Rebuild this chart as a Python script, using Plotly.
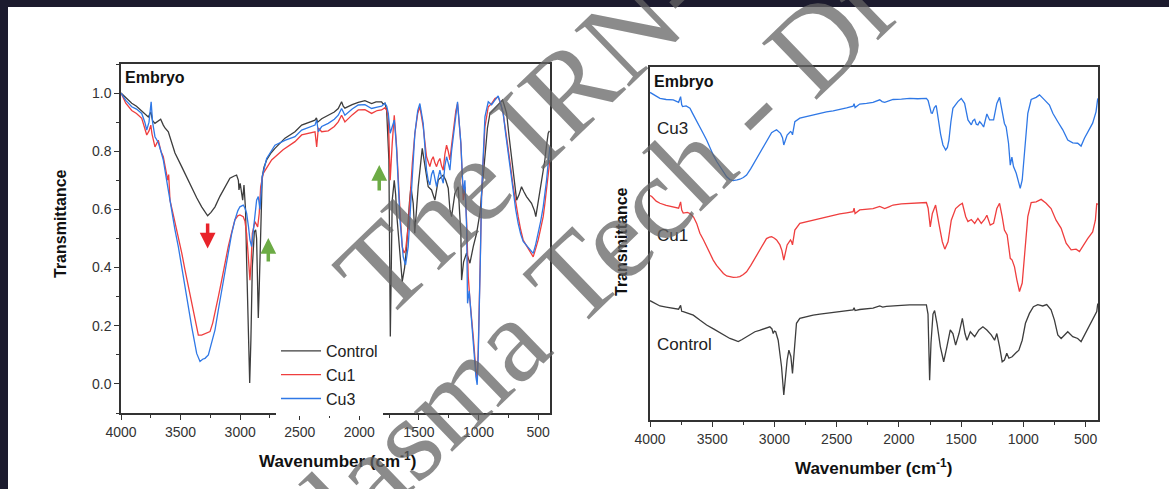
import plotly.graph_objects as go

# ---------------- left panel: overlaid FTIR spectra ----------------
left_ctrl_wn = [4000, 3960, 3910, 3870, 3826, 3790, 3771, 3750, 3735, 3715, 3690, 3667, 3645, 3631, 3603,
                3575, 3547, 3491, 3450, 3407, 3365, 3323, 3290, 3273, 3245, 3211, 3170, 3128, 3086, 3050,
                3030, 3015, 3010, 3000, 2990, 2979, 2968, 2955, 2946, 2930, 2920, 2910, 2898, 2881, 2870,
                2862, 2855, 2848, 2840, 2828, 2815, 2800, 2778, 2740, 2708, 2624, 2540, 2484, 2420, 2372,
                2360, 2350, 2316, 2261, 2210, 2177, 2149, 2135, 2121, 2060, 2009, 1953, 1920, 1897, 1860,
                1813, 1800, 1785, 1771, 1752, 1740, 1730, 1724, 1707, 1695, 1687, 1659, 1640, 1620, 1603,
                1580, 1567, 1548, 1535, 1520, 1506, 1472, 1455, 1450, 1422, 1394, 1366, 1338, 1296, 1275,
                1254, 1240, 1226, 1198, 1170, 1160, 1148, 1142, 1125, 1100, 1072, 1044, 1016, 988, 966,
                946, 925, 904, 848, 820, 798, 785, 764, 743, 722, 700, 680, 660, 639, 618, 597, 555, 530,
                519, 505, 485, 465, 443, 429, 415, 405]
left_ctrl_t = [1.000, 0.985, 0.965, 0.955, 0.940, 0.925, 0.918, 0.935, 0.905, 0.896, 0.905, 0.910, 0.890, 0.880, 0.867,
               0.830, 0.794, 0.747, 0.712, 0.673, 0.640, 0.609, 0.590, 0.578, 0.590, 0.609, 0.645, 0.678, 0.707, 0.715,
               0.718, 0.700, 0.667, 0.690, 0.660, 0.632, 0.684, 0.600, 0.426, 0.150, 0.003, 0.150, 0.403, 0.523, 0.530,
               0.500, 0.380, 0.227, 0.330, 0.541, 0.712, 0.745, 0.770, 0.795, 0.810, 0.845, 0.867, 0.890, 0.900, 0.907,
               0.915, 0.900, 0.912, 0.924, 0.935, 0.947, 0.970, 0.955, 0.948, 0.960, 0.968, 0.974, 0.968, 0.964, 0.970,
               0.970, 0.962, 0.965, 0.942, 0.770, 0.163, 0.450, 0.632, 0.700, 0.650, 0.587, 0.426, 0.352, 0.400, 0.472,
               0.620, 0.678, 0.621, 0.518, 0.600, 0.678, 0.810, 0.760, 0.747, 0.678, 0.667, 0.632, 0.701, 0.718, 0.700,
               0.673, 0.600, 0.575, 0.655, 0.678, 0.600, 0.518, 0.357, 0.420, 0.450, 0.415, 0.472, 0.518, 0.587, 0.700,
               0.804, 0.880, 0.930, 0.953, 0.965, 0.976, 0.960, 0.930, 0.850, 0.770, 0.690, 0.632, 0.650, 0.678, 0.660,
               0.644, 0.621, 0.595, 0.575, 0.610, 0.655, 0.700, 0.770, 0.820, 0.862, 0.870]

left_cu1_wn = [4000, 3960, 3910, 3870, 3826, 3800, 3784, 3765, 3750, 3740, 3715, 3687, 3665, 3645, 3625, 3608,
               3600, 3589, 3555, 3519, 3490, 3463, 3435, 3407, 3380, 3351, 3323, 3290, 3253, 3230, 3211, 3183,
               3155, 3128, 3100, 3072, 3044, 3020, 3002, 2974, 2960, 2946, 2930, 2918, 2908, 2898, 2876, 2853,
               2840, 2828, 2806, 2770, 2736, 2640, 2540, 2484, 2420, 2372, 2358, 2344, 2316, 2261, 2210, 2177,
               2149, 2121, 2060, 2009, 1953, 1897, 1850, 1813, 1785, 1770, 1757, 1741, 1724, 1707, 1695, 1687,
               1659, 1640, 1625, 1612, 1590, 1576, 1555, 1534, 1510, 1492, 1478, 1464, 1436, 1422, 1408, 1394,
               1380, 1366, 1352, 1338, 1324, 1310, 1296, 1282, 1268, 1254, 1240, 1226, 1212, 1190, 1176, 1162,
               1148, 1128, 1114, 1100, 1086, 1072, 1058, 1044, 1022, 1011, 1002, 994, 984, 974, 960, 946, 918,
               890, 862, 835, 815, 793, 772, 751, 730, 709, 688, 667, 646, 625, 604, 583, 562, 541, 520, 499,
               478, 457, 443, 429, 415, 401]
left_cu1_t = [1.000, 0.965, 0.940, 0.930, 0.913, 0.880, 0.856, 0.870, 0.890, 0.860, 0.815, 0.838, 0.800, 0.781, 0.740, 0.701,
              0.720, 0.632, 0.570, 0.506, 0.450, 0.392, 0.335, 0.278, 0.220, 0.168, 0.168, 0.175, 0.180, 0.210, 0.244, 0.300,
              0.357, 0.415, 0.472, 0.520, 0.564, 0.578, 0.581, 0.575, 0.560, 0.518, 0.420, 0.357, 0.420, 0.518, 0.558, 0.540,
              0.587, 0.678, 0.724, 0.750, 0.770, 0.805, 0.833, 0.856, 0.862, 0.867, 0.815, 0.880, 0.867, 0.870, 0.885, 0.901,
              0.924, 0.901, 0.925, 0.942, 0.943, 0.930, 0.940, 0.942, 0.950, 0.940, 0.918, 0.700, 0.827, 0.924, 0.860, 0.815,
              0.598, 0.472, 0.450, 0.460, 0.540, 0.632, 0.760, 0.861, 0.930, 0.953, 0.920, 0.884, 0.781, 0.760, 0.747, 0.770,
              0.781, 0.760, 0.747, 0.765, 0.775, 0.750, 0.735, 0.790, 0.821, 0.800, 0.770, 0.820, 0.873, 0.940, 0.964, 0.900,
              0.827, 0.632, 0.678, 0.564, 0.369, 0.289, 0.230, 0.163, 0.048, 0.014, 0.120, 0.244, 0.450, 0.655, 0.790, 0.884, 0.953,
              0.964, 0.981, 0.987, 0.965, 0.930, 0.870, 0.815, 0.745, 0.678, 0.620, 0.575, 0.530, 0.495, 0.480, 0.466, 0.450, 0.437, 0.465, 0.495,
              0.535, 0.575, 0.620, 0.678, 0.720, 0.770]

left_cu3_wn = [4000, 3960, 3910, 3870, 3826, 3800, 3784, 3765, 3747, 3735, 3715, 3687, 3665, 3645, 3625, 3608,
               3575, 3547, 3519, 3490, 3463, 3435, 3407, 3365, 3337, 3315, 3295, 3267, 3240, 3211, 3183, 3155,
               3128, 3100, 3072, 3044, 3020, 3002, 2974, 2960, 2946, 2930, 2918, 2904, 2892, 2881, 2862, 2848,
               2834, 2815, 2778, 2740, 2708, 2620, 2540, 2484, 2420, 2372, 2358, 2344, 2316, 2261, 2210, 2177,
               2149, 2121, 2060, 2009, 1953, 1897, 1850, 1813, 1785, 1770, 1757, 1741, 1724, 1707, 1695, 1687,
               1659, 1640, 1632, 1612, 1590, 1567, 1550, 1534, 1510, 1492, 1478, 1464, 1436, 1422, 1408, 1394,
               1380, 1366, 1352, 1338, 1324, 1310, 1296, 1282, 1268, 1254, 1240, 1226, 1212, 1190, 1176, 1162,
               1148, 1128, 1114, 1100, 1092, 1078, 1058, 1039, 1022, 1011, 1002, 994, 984, 974, 960, 946, 918,
               890, 862, 835, 815, 793, 772, 751, 730, 709, 688, 667, 646, 625, 604, 583, 562, 541, 520, 499,
               478, 457, 443, 429, 415, 401]
left_cu3_t = [1.000, 0.975, 0.953, 0.945, 0.930, 0.900, 0.873, 0.900, 0.970, 0.900, 0.850, 0.830, 0.800, 0.770, 0.720, 0.678,
              0.587, 0.530, 0.472, 0.400, 0.334, 0.265, 0.197, 0.105, 0.077, 0.085, 0.088, 0.100, 0.140, 0.186, 0.255, 0.323,
              0.390, 0.460, 0.515, 0.564, 0.595, 0.609, 0.615, 0.605, 0.587, 0.540, 0.495, 0.472, 0.520, 0.575, 0.632, 0.644,
              0.600, 0.712, 0.775, 0.800, 0.821, 0.838, 0.850, 0.873, 0.883, 0.890, 0.907, 0.867, 0.885, 0.896, 0.910, 0.924,
              0.947, 0.924, 0.945, 0.959, 0.960, 0.947, 0.952, 0.955, 0.965, 0.955, 0.930, 0.862, 0.884, 0.907, 0.850, 0.804,
              0.564, 0.470, 0.438, 0.409, 0.472, 0.632, 0.760, 0.861, 0.940, 0.964, 0.930, 0.896, 0.735, 0.700, 0.684, 0.720,
              0.735, 0.700, 0.678, 0.710, 0.735, 0.710, 0.690, 0.750, 0.781, 0.760, 0.735, 0.800, 0.850, 0.940, 0.970, 0.900,
              0.827, 0.655, 0.700, 0.541, 0.277, 0.320, 0.197, 0.117, 0.025, -0.003, 0.100, 0.220, 0.440, 0.655, 0.820, 0.918, 0.970,
              0.960, 0.976, 0.990, 0.965, 0.930, 0.860, 0.790, 0.720, 0.655, 0.600, 0.552, 0.515, 0.490, 0.480, 0.472, 0.460, 0.449, 0.480, 0.518,
              0.560, 0.609, 0.650, 0.700, 0.760, 0.815]

# ---------------- right panel: stacked spectra (offset, arbitrary units) ----------------
right_cu3_wn = [4000, 3986, 3950, 3920, 3870, 3813, 3770, 3754, 3745, 3738, 3710, 3679, 3660, 3639, 3620, 3599,
                3570, 3545, 3520, 3492, 3465, 3438, 3410, 3384, 3358, 3331, 3300, 3278, 3250, 3224, 3190, 3157,
                3125, 3091, 3057, 3023, 2995, 2983, 2951, 2935, 2925, 2912, 2898, 2871, 2862, 2855, 2848, 2836,
                2796, 2740, 2689, 2635, 2582, 2528, 2475, 2420, 2368, 2360, 2352, 2315, 2260, 2208, 2154, 2135,
                2114, 2080, 2047, 1980, 1913, 1850, 1779, 1765, 1753, 1740, 1731, 1715, 1700, 1686, 1665, 1646,
                1624, 1610, 1598, 1582, 1566, 1526, 1499, 1472, 1445, 1418, 1405, 1391, 1378, 1365, 1351, 1338,
                1319, 1293, 1271, 1239, 1213, 1191, 1170, 1152, 1138, 1119, 1105, 1092, 1079, 1057, 1036, 1025,
                1009, 991, 964, 937, 897, 870, 850, 830, 790, 763, 723, 683, 643, 603, 563, 536, 509, 469, 443,
                416, 402]
right_cu3_t = [0.928, 0.925, 0.915, 0.911, 0.908, 0.907, 0.900, 0.916, 0.893, 0.888, 0.890, 0.883, 0.870, 0.855, 0.845, 0.831,
               0.810, 0.793, 0.772, 0.751, 0.733, 0.718, 0.702, 0.689, 0.681, 0.678, 0.680, 0.682, 0.687, 0.694, 0.712, 0.732,
               0.752, 0.774, 0.795, 0.814, 0.820, 0.822, 0.812, 0.800, 0.779, 0.795, 0.807, 0.817, 0.815, 0.808, 0.825, 0.845,
               0.855, 0.860, 0.864, 0.869, 0.873, 0.876, 0.879, 0.884, 0.889, 0.896, 0.885, 0.895, 0.897, 0.900, 0.907, 0.902,
               0.900, 0.904, 0.908, 0.909, 0.911, 0.910, 0.911, 0.905, 0.888, 0.870, 0.869, 0.885, 0.891, 0.855, 0.810, 0.779,
               0.765, 0.772, 0.793, 0.845, 0.883, 0.902, 0.911, 0.897, 0.850, 0.836, 0.848, 0.852, 0.838, 0.836, 0.845, 0.840,
               0.830, 0.867, 0.850, 0.850, 0.897, 0.914, 0.878, 0.840, 0.830, 0.784, 0.722, 0.745, 0.718, 0.699, 0.671, 0.656,
               0.680, 0.765, 0.869, 0.908, 0.914, 0.921, 0.915, 0.907, 0.892, 0.869, 0.845, 0.822, 0.793, 0.785, 0.784, 0.776, 0.798, 0.822, 0.841,
               0.873, 0.911]

right_cu1_wn = [4000, 3986, 3950, 3920, 3870, 3813, 3770, 3754, 3745, 3733, 3700, 3679, 3650, 3625, 3599, 3570,
                3545, 3520, 3492, 3465, 3438, 3410, 3384, 3358, 3331, 3300, 3278, 3250, 3224, 3190, 3157, 3130,
                3104, 3085, 3064, 3040, 3023, 3000, 2983, 2956, 2940, 2925, 2912, 2898, 2871, 2862, 2855, 2848,
                2836, 2796, 2740, 2689, 2635, 2582, 2528, 2475, 2420, 2368, 2360, 2352, 2315, 2260, 2208, 2154,
                2135, 2114, 2080, 2047, 1980, 1913, 1850, 1779, 1765, 1758, 1748, 1731, 1705, 1679, 1651, 1631,
                1605, 1579, 1544, 1512, 1490, 1463, 1445, 1418, 1391, 1365, 1338, 1312, 1293, 1266, 1239, 1213,
                1191, 1170, 1152, 1130, 1115, 1105, 1090, 1071, 1052, 1031, 1009, 991, 964, 937, 897, 857, 817,
                777, 737, 696, 656, 616, 576, 549, 517, 483, 443, 421, 410, 402]
right_cu1_t = [0.636, 0.633, 0.620, 0.614, 0.608, 0.604, 0.600, 0.618, 0.595, 0.586, 0.588, 0.585, 0.575, 0.557, 0.529, 0.510,
               0.491, 0.470, 0.453, 0.438, 0.425, 0.415, 0.408, 0.405, 0.404, 0.405, 0.406, 0.412, 0.420, 0.438, 0.458, 0.475,
               0.491, 0.505, 0.514, 0.518, 0.519, 0.515, 0.510, 0.496, 0.480, 0.453, 0.475, 0.496, 0.510, 0.505, 0.496, 0.515,
               0.538, 0.557, 0.562, 0.566, 0.571, 0.576, 0.580, 0.584, 0.587, 0.590, 0.600, 0.585, 0.595, 0.597, 0.599, 0.605,
               0.601, 0.599, 0.604, 0.609, 0.612, 0.614, 0.615, 0.616, 0.600, 0.576, 0.547, 0.585, 0.609, 0.557, 0.505, 0.484,
               0.505, 0.566, 0.599, 0.609, 0.614, 0.576, 0.562, 0.568, 0.557, 0.571, 0.557, 0.568, 0.580, 0.552, 0.557, 0.599,
               0.614, 0.576, 0.538, 0.524, 0.480, 0.458, 0.453, 0.434, 0.397, 0.364, 0.388, 0.472, 0.576, 0.616, 0.618, 0.625, 0.614,
               0.599, 0.566, 0.543, 0.501, 0.482, 0.484, 0.477, 0.496, 0.514, 0.533, 0.566, 0.614, 0.610]

right_ctrl_wn = [4000, 3986, 3950, 3920, 3870, 3813, 3770, 3754, 3745, 3733, 3700, 3652, 3600, 3545, 3490, 3438,
                 3400, 3358, 3320, 3291, 3260, 3224, 3190, 3157, 3120, 3091, 3060, 3037, 3020, 3010, 3000, 2990,
                 2970, 2955, 2943, 2925, 2912, 2898, 2884, 2868, 2855, 2848, 2841, 2830, 2823, 2796, 2740, 2689,
                 2635, 2582, 2528, 2475, 2420, 2368, 2360, 2352, 2315, 2260, 2208, 2154, 2130, 2100, 2047, 1980,
                 1913, 1850, 1779, 1766, 1753, 1742, 1726, 1713, 1694, 1667, 1640, 1614, 1587, 1566, 1544, 1517,
                 1490, 1469, 1453, 1426, 1391, 1357, 1325, 1293, 1258, 1231, 1213, 1191, 1170, 1152, 1133, 1116,
                 1090, 1063, 1036, 1009, 983, 951, 919, 884, 844, 812, 777, 750, 723, 696, 670, 643, 603, 563, 536,
                 496, 456, 429, 410, 402]
right_ctrl_t = [0.338, 0.335, 0.328, 0.323, 0.320, 0.316, 0.314, 0.325, 0.308, 0.307, 0.303, 0.297, 0.283, 0.269, 0.258, 0.247,
                0.239, 0.231, 0.226, 0.222, 0.228, 0.236, 0.243, 0.250, 0.254, 0.257, 0.260, 0.264, 0.258, 0.245, 0.252, 0.250,
                0.226, 0.190, 0.151, 0.071, 0.130, 0.170, 0.198, 0.180, 0.132, 0.165, 0.198, 0.250, 0.274, 0.288, 0.293, 0.297,
                0.300, 0.302, 0.305, 0.307, 0.309, 0.312, 0.318, 0.310, 0.313, 0.315, 0.317, 0.323, 0.320, 0.322, 0.324, 0.325,
                0.326, 0.326, 0.326, 0.300, 0.113, 0.218, 0.300, 0.310, 0.274, 0.208, 0.165, 0.208, 0.255, 0.245, 0.212, 0.245,
                0.288, 0.245, 0.226, 0.250, 0.236, 0.255, 0.264, 0.255, 0.241, 0.226, 0.245, 0.208, 0.165, 0.170, 0.189, 0.175,
                0.179, 0.189, 0.198, 0.226, 0.274, 0.302, 0.321, 0.327, 0.323, 0.327, 0.312, 0.283, 0.241, 0.231, 0.240, 0.250, 0.236, 0.231, 0.222,
                0.250, 0.274, 0.297, 0.307, 0.330]

series_names = ["Control", "Cu1", "Cu3"]
series_colors = ["#3d3d3d", "#ef3e3e", "#2f78e6"]

# band markers on the left panel: (wavenumber, tail, head, colour)
marker_arrows = [(3273, 0.557, 0.466, "#e8232a"),
                 (2764, 0.416, 0.502, "#6cab45"),
                 (1833, 0.660, 0.753, "#6cab45")]

W, H = 1169, 489
FONT = "Liberation Sans, Arial, sans-serif"
AXC = "#333333"


def px(xp):
    return xp / W


def py(yp):
    return 1 - yp / H


fig = go.Figure()

left_sets = [(left_ctrl_wn, left_ctrl_t), (left_cu1_wn, left_cu1_t), (left_cu3_wn, left_cu3_t)]
for (wn, t), name, col in zip(left_sets, series_names, series_colors):
    fig.add_trace(go.Scatter(x=wn, y=t, mode="lines", name=name, xaxis="x", yaxis="y",
                             line=dict(color=col, width=1.3), showlegend=True))

right_sets = [(right_ctrl_wn, right_ctrl_t), (right_cu1_wn, right_cu1_t), (right_cu3_wn, right_cu3_t)]
for (wn, t), name, col in zip(right_sets, series_names, series_colors):
    fig.add_trace(go.Scatter(x=wn, y=t, mode="lines", name=name, xaxis="x2", yaxis="y2",
                             line=dict(color=col, width=1.3), showlegend=False))

xaxis_common = dict(range=[4000, 400], tickmode="linear", tick0=500, dtick=500,
                    ticks="outside", ticklen=5, tickwidth=1.3, tickcolor=AXC,
                    minor=dict(ticks="outside", ticklen=3, tickwidth=1.2, tickcolor=AXC, dtick=250, tick0=250),
                    showline=True, linecolor=AXC, linewidth=1.5, mirror=True,
                    showgrid=False, zeroline=False, automargin=False,
                    tickfont=dict(family=FONT, size=14, color=AXC))

fig.update_layout(
    template="none",
    width=W, height=H,
    margin=dict(l=0, r=0, t=0, b=0, pad=0, autoexpand=False),
    paper_bgcolor="white", plot_bgcolor="white",
    xaxis=dict(domain=[px(121), px(550)], anchor="y", **xaxis_common),
    yaxis=dict(domain=[py(413), py(64)], anchor="x", range=[-0.1, 1.1],
               tickmode="linear", tick0=0, dtick=0.2, tickformat=".1f",
               ticks="outside", ticklen=5, tickwidth=1.3, tickcolor=AXC,
               minor=dict(ticks="outside", ticklen=3, tickwidth=1.2, tickcolor=AXC, dtick=0.1),
               showline=True, linecolor=AXC, linewidth=1.5, mirror=True,
               showgrid=False, zeroline=False, automargin=False,
               tickfont=dict(family=FONT, size=14, color=AXC)),
    xaxis2=dict(domain=[px(650), px(1098)], anchor="y2", **xaxis_common),
    yaxis2=dict(domain=[py(420), py(67)], anchor="x2", range=[0, 1],
                showticklabels=False, ticks="",
                showline=True, linecolor=AXC, linewidth=1.5, mirror=True,
                showgrid=False, zeroline=False, automargin=False),
    legend=dict(x=px(276), y=py(334), xanchor="left", yanchor="top",
                bgcolor="white", borderwidth=0, itemwidth=40,
                font=dict(family=FONT, size=16, color="#222222"),
                tracegroupgap=0),
    showlegend=True,
)

# dark frame strips along the top and left edges
fig.add_shape(type="rect", xref="paper", yref="paper", x0=0, x1=1, y0=py(7), y1=1.01,
              fillcolor="#1c1b2e", line_width=0, layer="above")
fig.add_shape(type="rect", xref="paper", yref="paper", x0=-0.01, x1=px(8), y0=-0.01, y1=1.01,
              fillcolor="#1c1b2e", line_width=0, layer="above")

ann = []
# panel labels
ann.append(dict(text="<b>Embryo</b>", x=3983, y=1.052, xref="x", yref="y", xanchor="left", yanchor="middle",
                showarrow=False, font=dict(family=FONT, size=16, color="#111111")))
ann.append(dict(text="<b>Embryo</b>", x=3984, y=0.960, xref="x2", yref="y2", xanchor="left", yanchor="middle",
                showarrow=False, font=dict(family=FONT, size=16, color="#111111")))
# curve labels on the stacked panel
for txt, yv in [("Cu3", 0.827), ("Cu1", 0.524), ("Control", 0.215)]:
    ann.append(dict(text=txt, x=3960, y=yv, xref="x2", yref="y2", xanchor="left", yanchor="middle",
                    showarrow=False, font=dict(family=FONT, size=17, color="#222222")))
# axis titles
for xc, yc in [(61, 224), (622, 242)]:
    ann.append(dict(text="<b>Transmittance</b>", x=px(xc), y=py(yc), xref="paper", yref="paper",
                    textangle=-90, showarrow=False, xanchor="center", yanchor="middle",
                    font=dict(family=FONT, size=16, color="#111111")))
for xc, yc in [(337, 460), (873.5, 467)]:
    ann.append(dict(text="<b>Wavenumber (cm<sup>-1</sup>)</b>", x=px(xc), y=py(yc), xref="paper", yref="paper",
                    showarrow=False, xanchor="center", yanchor="middle",
                    font=dict(family=FONT, size=17, color="#111111")))
# band arrows
for wn, tail, head, col in marker_arrows:
    ann.append(dict(text="", x=wn, y=head, ax=wn, ay=tail, xref="x", yref="y", axref="x", ayref="y",
                    showarrow=True, arrowhead=2, arrowsize=0.9, arrowwidth=3.5, arrowcolor=col))
# watermark
for txt, xc, yc in [("The IRN-", 522, 133), ("Plasma Tech - Dr", 577, 274)]:
    ann.append(dict(text=txt, x=px(xc), y=py(yc), xref="paper", yref="paper", textangle=-44,
                    showarrow=False, xanchor="center", yanchor="middle",
                    font=dict(family="Liberation Serif, Times New Roman, serif", size=120,
                              color="rgba(100,100,100,0.75)")))
fig.update_layout(annotations=ann)

fig.write_html("out.html")
